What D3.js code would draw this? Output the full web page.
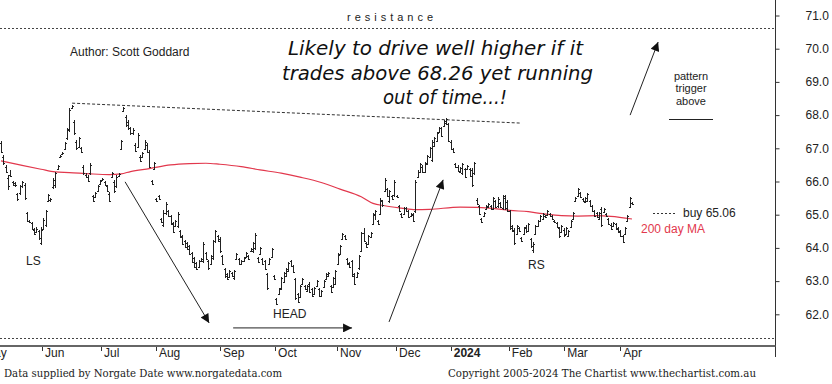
<!DOCTYPE html>
<html>
<head>
<meta charset="utf-8">
<script src="https://cdn.jsdelivr.net/npm/d3@7"></script>
<style>
  body { margin: 0; background: #fff; }
  svg { display: block; }
  .lbl { font-family: "Liberation Sans", Arial, sans-serif; fill: #222; }
</style>
</head>
<body>
<script>
// daily bars, oldest first
const highs = [
  67.22, 66.80, 66.50, 66.20, 66.35, 66.02, 65.99, 65.66, 65.89, 66.02, 65.96, 65.08,
  64.84, 64.78, 64.60, 64.63, 64.54, 64.63, 64.90, 65.14, 65.62, 65.50, 66.11,
  66.29, 66.50, 66.80, 66.89, 67.19, 67.61, 68.21, 68.30, 67.85, 67.25,
  67.34, 67.04, 66.50, 66.26, 66.20, 66.56, 65.59, 65.68, 65.90, 66.05,
  66.11, 66.02, 65.90, 65.68, 66.29, 66.05, 66.20, 66.26, 67.25, 68.24,
  68.00, 67.85, 67.64, 67.61, 67.16, 67.46, 66.80, 66.89, 67.25, 67.16,
  66.95, 66.05, 66.59, 65.50, 65.59, 64.90, 65.14, 65.38, 65.14, 64.99,
  64.78, 64.84, 65.08, 64.54, 64.39, 64.24, 64.18, 64.09, 63.88, 63.73,
  63.58, 63.64, 63.70, 64.18, 63.88, 63.64, 63.79, 64.24, 64.54, 64.39,
  64.33, 63.79, 63.40, 63.25, 63.34, 63.28, 63.34, 63.85, 63.70, 63.64,
  63.73, 63.88, 63.79, 64.00, 64.18, 64.45, 63.73, 64.03, 63.70, 63.64,
  63.25, 63.70, 64.00, 63.19, 62.49, 62.79, 63.13, 63.28, 63.40, 63.58,
  63.64, 63.49, 63.10, 62.64, 62.88, 63.10, 62.88, 62.88, 62.97, 62.79,
  62.82, 63.04, 62.79, 62.73, 63.04, 63.25, 63.28, 62.88, 63.13, 63.34,
  63.85, 64.09, 64.45, 64.39, 63.70, 63.58, 63.64, 63.25, 63.28, 63.79,
  64.48, 64.60, 64.18, 64.39, 64.48, 65.05, 65.14, 64.84, 65.50, 65.44,
  66.11, 65.81, 65.74, 65.59, 66.05, 65.59, 65.29, 65.05, 65.23, 65.23,
  65.14, 65.05, 65.05, 66.05, 66.35, 66.56, 66.50, 66.59, 66.80, 67.04,
  67.25, 67.34, 67.49, 67.64, 67.64, 67.85, 67.91, 67.76, 67.25, 67.01,
  66.56, 66.50, 66.44, 66.56, 66.41, 66.50, 66.41, 66.41, 66.59, 65.50,
  65.29, 64.90, 65.08, 65.29, 65.35, 65.29, 65.53, 65.44, 65.53, 65.38,
  65.59, 65.59, 65.44, 65.14, 64.69, 64.60, 64.69, 64.63, 64.33, 64.63,
  64.69, 64.75, 64.30, 64.18, 64.69, 64.84, 64.99, 65.05, 64.99, 65.14,
  65.05, 64.99, 64.84, 64.78, 64.63, 64.69, 64.60, 64.63, 64.54, 64.84,
  65.08, 65.53, 65.81, 65.68, 65.50, 65.53, 65.66, 65.44, 65.29, 65.14,
  65.08, 65.08, 65.23, 65.20, 65.05, 64.90, 64.75, 64.78, 64.75, 64.63,
  64.54, 64.39, 64.63, 64.99, 65.53, 65.38
];
const lows = [
  66.86, 66.50, 66.26, 65.75, 66.14, 65.87, 65.84, 65.42, 65.59, 65.81, 65.45, 64.78,
  64.75, 64.54, 64.39, 64.45, 64.24, 64.09, 64.54, 64.63, 65.38, 65.38, 65.78,
  65.81, 66.35, 66.71, 66.80, 66.95, 67.25, 67.49, 68.21, 67.40, 66.95,
  67.01, 66.86, 66.20, 66.11, 65.99, 66.20, 65.38, 65.50, 65.68, 65.90,
  66.02, 65.87, 65.68, 65.38, 66.11, 65.66, 65.81, 66.14, 66.95, 68.09,
  67.64, 67.55, 67.40, 67.40, 66.89, 67.01, 66.59, 66.71, 66.95, 66.86,
  66.41, 65.90, 66.35, 65.38, 65.44, 64.75, 64.63, 64.99, 64.93, 64.69,
  64.45, 64.63, 64.60, 64.30, 64.09, 64.00, 63.94, 63.79, 63.55, 63.40,
  63.34, 63.40, 63.58, 63.55, 63.64, 63.34, 63.49, 63.64, 64.15, 64.18,
  63.85, 63.49, 63.10, 63.04, 63.10, 63.13, 63.04, 63.64, 63.49, 63.49,
  63.58, 63.70, 63.64, 63.88, 63.85, 63.94, 63.55, 63.79, 63.49, 63.34,
  62.74, 63.49, 63.70, 63.04, 62.28, 62.58, 62.74, 62.95, 63.13, 63.28,
  63.43, 63.25, 62.43, 62.34, 62.49, 62.88, 62.73, 62.67, 62.64, 62.52,
  62.58, 62.82, 62.52, 62.52, 62.79, 63.04, 63.13, 62.64, 62.79, 62.88,
  63.49, 63.79, 64.24, 64.24, 63.49, 63.40, 63.13, 62.88, 63.10, 63.34,
  63.88, 64.18, 64.00, 64.09, 64.30, 64.69, 64.84, 64.69, 64.99, 65.23,
  65.68, 65.53, 65.35, 65.44, 65.53, 65.50, 65.08, 64.90, 64.99, 65.08,
  64.90, 64.93, 64.78, 65.05, 66.11, 66.26, 66.26, 66.26, 66.50, 66.71,
  66.59, 67.04, 67.19, 67.46, 67.34, 67.64, 67.70, 67.19, 66.95, 66.86,
  66.41, 66.29, 66.26, 66.20, 66.11, 66.35, 66.14, 65.84, 66.20, 65.29,
  64.99, 64.75, 64.93, 65.14, 65.20, 65.14, 65.14, 65.20, 65.20, 65.20,
  65.14, 65.14, 65.08, 64.54, 64.48, 64.09, 64.39, 64.48, 64.18, 64.39,
  64.45, 64.48, 64.00, 63.85, 64.39, 64.63, 64.78, 64.84, 64.90, 64.99,
  64.93, 64.84, 64.75, 64.60, 64.30, 64.45, 64.33, 64.39, 64.33, 64.60,
  64.84, 65.38, 65.53, 65.50, 65.38, 65.35, 65.38, 65.23, 65.08, 64.93,
  64.90, 64.84, 64.63, 65.05, 64.93, 64.69, 64.54, 64.63, 64.54, 64.45,
  64.33, 64.15, 64.39, 64.78, 65.20, 65.29
];
const opens = [
  67.15, 66.75, 66.45, 66.10, 66.20, 65.98, 65.95, 65.62, 65.65, 65.85, 65.90, 65.05,
  64.82, 64.75, 64.55, 64.48, 64.50, 64.15, 64.58, 64.70, 65.42, 65.45, 65.82,
  65.90, 66.38, 66.73, 66.82, 66.98, 67.30, 67.55, 68.22, 67.80, 67.20,
  67.05, 67.00, 66.45, 66.20, 66.15, 66.25, 65.55, 65.52, 65.70, 65.92,
  66.04, 66.00, 65.85, 65.62, 66.15, 66.00, 65.85, 66.16, 66.98, 68.12,
  67.95, 67.80, 67.60, 67.45, 67.10, 67.05, 66.75, 66.75, 66.98, 67.10,
  66.90, 66.02, 66.38, 65.48, 65.55, 64.88, 64.70, 65.05, 65.10, 64.95,
  64.75, 64.66, 64.65, 64.50, 64.35, 64.20, 64.15, 64.05, 63.85, 63.70,
  63.55, 63.42, 63.60, 63.60, 63.85, 63.60, 63.52, 63.70, 64.20, 64.35,
  64.28, 63.75, 63.35, 63.20, 63.12, 63.25, 63.08, 63.67, 63.66, 63.52,
  63.60, 63.72, 63.76, 63.90, 63.90, 64.00, 63.70, 63.82, 63.66, 63.60,
  63.20, 63.52, 63.74, 63.16, 62.45, 62.60, 62.78, 62.98, 63.16, 63.30,
  63.60, 63.45, 63.05, 62.60, 62.52, 62.90, 62.85, 62.70, 62.90, 62.75,
  62.60, 62.85, 62.75, 62.55, 62.82, 63.06, 63.16, 62.85, 62.82, 62.92,
  63.52, 63.82, 64.26, 64.36, 63.66, 63.55, 63.60, 63.20, 63.12, 63.38,
  63.92, 64.45, 64.15, 64.12, 64.33, 64.72, 65.00, 64.80, 65.02, 65.40,
  65.72, 65.78, 65.40, 65.56, 65.58, 65.57, 65.25, 65.02, 65.02, 65.20,
  65.10, 64.95, 65.00, 65.10, 66.14, 66.30, 66.45, 66.30, 66.53, 66.75,
  66.65, 67.08, 67.22, 67.48, 67.60, 67.66, 67.75, 67.72, 67.20, 66.98,
  66.52, 66.45, 66.30, 66.25, 66.38, 66.38, 66.38, 66.35, 66.25, 65.45,
  65.25, 64.88, 64.95, 65.16, 65.22, 65.26, 65.18, 65.40, 65.25, 65.35,
  65.20, 65.50, 65.38, 65.10, 64.65, 64.55, 64.42, 64.60, 64.30, 64.42,
  64.62, 64.52, 64.27, 63.95, 64.42, 64.66, 64.80, 64.88, 64.96, 65.00,
  65.02, 64.95, 64.82, 64.75, 64.60, 64.48, 64.55, 64.42, 64.36, 64.62,
  64.86, 65.40, 65.56, 65.65, 65.47, 65.38, 65.42, 65.40, 65.25, 65.10,
  65.05, 64.88, 65.18, 65.08, 65.02, 64.87, 64.70, 64.66, 64.72, 64.60,
  64.50, 64.36, 64.42, 64.80, 65.24, 65.36
];
const closes = [
  66.90, 66.55, 66.30, 65.85, 66.18, 65.90, 65.88, 65.48, 65.85, 65.98, 65.50, 64.82,
  64.77, 64.57, 64.42, 64.58, 64.30, 64.55, 64.85, 65.10, 65.58, 65.48, 66.05,
  66.25, 66.48, 66.78, 66.87, 67.15, 67.58, 68.15, 68.28, 67.45, 67.00,
  67.30, 66.90, 66.25, 66.15, 66.02, 66.50, 65.42, 65.65, 65.85, 66.02,
  66.09, 65.90, 65.72, 65.42, 66.25, 65.72, 66.15, 66.24, 67.22, 68.20,
  67.70, 67.60, 67.45, 67.55, 66.92, 67.40, 66.62, 66.85, 67.20, 66.90,
  66.45, 65.92, 66.55, 65.40, 65.47, 64.78, 65.05, 65.32, 64.96, 64.72,
  64.48, 64.80, 65.02, 64.33, 64.12, 64.03, 63.97, 63.82, 63.58, 63.43,
  63.37, 63.60, 63.68, 64.12, 63.68, 63.38, 63.75, 64.20, 64.50, 64.22,
  63.90, 63.52, 63.15, 63.07, 63.30, 63.16, 63.30, 63.82, 63.52, 63.60,
  63.70, 63.85, 63.67, 63.98, 64.15, 64.40, 63.58, 64.00, 63.52, 63.37,
  62.78, 63.66, 63.96, 63.06, 62.32, 62.76, 63.10, 63.25, 63.37, 63.55,
  63.46, 63.28, 62.48, 62.38, 62.85, 63.07, 62.76, 62.85, 62.68, 62.55,
  62.80, 63.00, 62.55, 62.70, 63.00, 63.22, 63.25, 62.67, 63.10, 63.30,
  63.80, 64.05, 64.42, 64.27, 63.52, 63.43, 63.16, 62.92, 63.25, 63.75,
  64.44, 64.22, 64.03, 64.35, 64.45, 65.02, 65.10, 64.72, 65.45, 65.28,
  66.05, 65.57, 65.70, 65.47, 66.00, 65.52, 65.11, 64.93, 65.20, 65.11,
  64.93, 65.02, 64.82, 66.00, 66.30, 66.52, 66.30, 66.55, 66.76, 67.00,
  67.20, 67.30, 67.45, 67.60, 67.38, 67.82, 67.88, 67.22, 66.98, 66.88,
  66.44, 66.33, 66.40, 66.52, 66.15, 66.47, 66.18, 65.90, 66.55, 65.32,
  65.02, 64.78, 65.05, 65.26, 65.32, 65.17, 65.50, 65.24, 65.48, 65.23,
  65.55, 65.20, 65.12, 64.60, 64.52, 64.15, 64.65, 64.52, 64.21, 64.60,
  64.50, 64.72, 64.05, 64.12, 64.65, 64.80, 64.96, 65.02, 64.93, 65.10,
  64.96, 64.87, 64.77, 64.63, 64.35, 64.65, 64.38, 64.60, 64.50, 64.80,
  65.05, 65.50, 65.78, 65.53, 65.40, 65.50, 65.62, 65.26, 65.11, 64.96,
  64.93, 65.05, 64.68, 65.17, 64.96, 64.72, 64.57, 64.75, 64.57, 64.48,
  64.36, 64.18, 64.60, 64.96, 65.50, 65.31
];

// 200 day moving average, read at a few bar positions
const maIdx = [0, 8, 17, 23, 29, 38, 46, 51, 55, 63, 72, 80, 87, 93, 102, 110, 119, 127, 136,
  144, 153, 158, 163, 170, 176, 182, 195, 202, 209, 216, 224, 230, 238, 245, 253, 259, 268];
const maVal = [66.62, 66.50, 66.37, 66.29, 66.27, 66.23, 66.21, 66.23, 66.30, 66.39, 66.50,
  66.54, 66.55, 66.52, 66.45, 66.35, 66.25, 66.13, 65.97, 65.77, 65.54, 65.34, 65.27, 65.20,
  65.15, 65.16, 65.23, 65.22, 65.19, 65.13, 65.09, 65.03, 64.97, 64.96, 64.97, 64.95, 64.87];

// month ticks as bar index
const months = ["May", "Jun", "Jul", "Aug", "Sep", "Oct", "Nov", "Dec", "2024", "Feb", "Mar", "Apr"];
const monthIdx = [-8.5, 17.4, 42.5, 65.8, 93.0, 116.4, 142.7, 167.8, 191.0, 215.7, 239.2, 263.0];

const yTicks = [62, 63, 64, 65, 66, 67, 68, 69, 70, 71];

const resistance = 70.62;
const support = 61.28;
const buyLevel = 65.06;
const neckline = [[30.2, 68.36], [220.5, 67.76]];
// arrows: [fromIdx, fromPrice, toIdx, toPrice]
const arrows = [
  [52.7, 65.99, 88.4, 61.74],
  [98.6, 61.59, 149.1, 61.59],
  [164.8, 61.77, 187.8, 66.05],
  [267.2, 68.00, 279.1, 70.20]
];

const width = 832, height = 384;
const axisX = 775.5;

const svg = d3.select("body").append("svg")
  .attr("width", width)
  .attr("height", height);

const x = d3.scaleLinear().domain([0, highs.length - 1]).range([1, 632]);
const y = d3.scaleLinear().domain([62, 71]).range([314.3, 15.5]);

const defs = svg.append("defs");
defs.append("marker")
    .attr("id", "head")
    .attr("viewBox", "0 0 10 10")
    .attr("refX", 10)
    .attr("refY", 5)
    .attr("markerWidth", 11)
    .attr("markerHeight", 9)
    .attr("markerUnits", "userSpaceOnUse")
    .attr("orient", "auto")
  .append("path")
    .attr("d", "M0,0L10,5L0,10z")
    .attr("fill", "#111");

// dotted resistance / support lines
svg.append("g")
    .attr("stroke", "#444")
    .attr("stroke-width", 1)
    .attr("stroke-dasharray", "2,2")
  .selectAll("line")
  .data([resistance, support])
  .join("line")
    .attr("x1", 0)
    .attr("x2", axisX)
    .attr("y1", d => Math.round(y(d)) + 0.5)
    .attr("y2", d => Math.round(y(d)) + 0.5);

svg.append("text")
    .attr("class", "lbl")
    .attr("x", 347)
    .attr("y", 21)
    .attr("font-size", 11)
    .attr("fill", "#333")
    .attr("textLength", 86)
    .text("resistance");

// neckline
svg.append("line")
    .attr("x1", x(neckline[0][0]))
    .attr("y1", y(neckline[0][1]))
    .attr("x2", x(neckline[1][0]))
    .attr("y2", y(neckline[1][1]))
    .attr("stroke", "#333")
    .attr("stroke-dasharray", "3,2");

// 200 day MA
const maLine = d3.line()
  .x((d, i) => x(maIdx[i]))
  .y(d => y(d))
  .curve(d3.curveMonotoneX);

svg.append("path")
    .datum(maVal)
    .attr("d", maLine)
    .attr("fill", "none")
    .attr("stroke", "#e2384d")
    .attr("stroke-width", 1.2);

// OHLC bars
const bars = svg.append("g")
    .attr("stroke", "#222")
    .attr("stroke-width", 1)
    .attr("shape-rendering", "crispEdges");

bars.selectAll("path")
  .data(highs.map((h, i) => i))
  .join("path")
    .attr("d", i => {
      const px = Math.round(x(i)) + 0.5;
      const yo = Math.round(y(opens[i])) + 0.5;
      const yc = Math.round(y(closes[i])) + 0.5;
      return `M${px},${y(highs[i])}V${y(lows[i])}` +
        `M${px - 1.5},${yo}H${px}` +
        `M${px},${yc}H${px + 1.5}`;
    });

// arrows
svg.append("g")
    .attr("stroke", "#222")
    .attr("stroke-width", 1)
  .selectAll("line")
  .data(arrows)
  .join("line")
    .attr("x1", d => x(d[0]))
    .attr("y1", d => y(d[1]))
    .attr("x2", d => x(d[2]))
    .attr("y2", d => y(d[3]))
    .attr("marker-end", "url(#head)");

// axes
svg.append("line")
    .attr("x1", axisX).attr("x2", axisX)
    .attr("y1", 0).attr("y2", 357)
    .attr("stroke", "#333");

svg.append("line")
    .attr("x1", 0).attr("x2", axisX)
    .attr("y1", 346).attr("y2", 346)
    .attr("stroke", "#666")
    .attr("stroke-width", 2);

const yAxis = svg.append("g")
    .attr("transform", `translate(${axisX},0)`)
    .call(d3.axisRight(y).tickValues(yTicks).tickSize(4).tickPadding(26).tickFormat(d3.format(".1f")));
yAxis.select(".domain").remove();
yAxis.selectAll("line").attr("stroke", "#333");
yAxis.selectAll("text")
    .attr("font-family", "Liberation Sans, Arial, sans-serif")
    .attr("font-size", 12)
    .attr("fill", "#222");

const mg = svg.append("g");
mg.selectAll("line")
  .data(monthIdx)
  .join("line")
    .attr("x1", d => Math.round(x(d)) + 0.5)
    .attr("x2", d => Math.round(x(d)) + 0.5)
    .attr("y1", 347)
    .attr("y2", 351)
    .attr("stroke", "#333");
mg.selectAll("text")
  .data(monthIdx)
  .join("text")
    .attr("class", "lbl")
    .attr("x", d => x(d) + 3)
    .attr("y", 357)
    .attr("font-size", 12)
    .attr("font-weight", (d, i) => months[i] === "2024" ? "bold" : null)
    .text((d, i) => months[i]);

// annotations
svg.append("text")
    .attr("class", "lbl")
    .attr("x", 70).attr("y", 56)
    .attr("font-size", 12)
    .text("Author: Scott Goddard");

const headline = [
  ["Likely to drive well higher if it", 288, 55, 295],
  ["trades above 68.26 yet running", 282, 79.5, 311],
  ["out of time...!", 383, 104, 124]
];
svg.append("g")
  .selectAll("text")
  .data(headline)
  .join("text")
    .attr("x", d => d[1])
    .attr("y", d => d[2])
    .attr("textLength", d => d[3])
    .attr("lengthAdjust", "spacingAndGlyphs")
    .attr("font-family", "DejaVu Sans, Verdana, sans-serif")
    .attr("font-style", "italic")
    .attr("font-size", 20)
    .attr("fill", "#111")
    .text(d => d[0]);

svg.append("g")
    .attr("class", "lbl")
    .attr("font-size", 11)
    .attr("text-anchor", "middle")
  .selectAll("text")
  .data([["pattern", 79.5], ["trigger", 92], ["above", 105]])
  .join("text")
    .attr("x", 691)
    .attr("y", d => d[1])
    .text(d => d[0]);
svg.append("line")
    .attr("x1", 669).attr("x2", 713)
    .attr("y1", 119.5).attr("y2", 119.5)
    .attr("stroke", "#222");

svg.append("line")
    .attr("x1", 653).attr("x2", 677)
    .attr("y1", Math.round(y(buyLevel)) + 0.5)
    .attr("y2", Math.round(y(buyLevel)) + 0.5)
    .attr("stroke", "#333")
    .attr("stroke-dasharray", "2,2");
svg.append("text")
    .attr("class", "lbl")
    .attr("x", 683).attr("y", 217)
    .attr("font-size", 12)
    .text("buy " + buyLevel.toFixed(2));

svg.append("text")
    .attr("x", 641).attr("y", 233)
    .attr("font-family", "Liberation Sans, Arial, sans-serif")
    .attr("font-size", 12)
    .attr("fill", "#e2384d")
    .text("200 day MA");

svg.append("g")
    .attr("class", "lbl")
    .attr("font-size", 12)
  .selectAll("text")
  .data([["LS", 26, 265], ["HEAD", 273, 318], ["RS", 528, 269]])
  .join("text")
    .attr("x", d => d[1])
    .attr("y", d => d[2])
    .text(d => d[0]);

svg.append("g")
    .attr("font-family", "DejaVu Serif, Georgia, serif")
    .attr("font-size", 11)
    .attr("fill", "#222")
  .selectAll("text")
  .data([["Data supplied by Norgate Date www.norgatedata.com", 4, 278],
         ["Copyright 2005-2024 The Chartist www.thechartist.com.au", 448, 308]])
  .join("text")
    .attr("x", d => d[1])
    .attr("y", 377)
    .attr("textLength", d => d[2])
    .attr("lengthAdjust", "spacingAndGlyphs")
    .text(d => d[0]);
</script>
</body>
</html>
